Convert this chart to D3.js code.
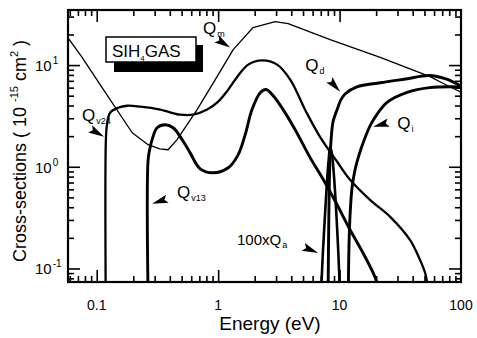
<!DOCTYPE html>
<html>
<head>
<meta charset="utf-8">
<script src="https://cdn.jsdelivr.net/npm/d3@7"></script>
<style>
  html, body { margin: 0; padding: 0; background: #fff; }
  svg { display: block; font-family: "Liberation Sans", Arial, sans-serif; }
</style>
</head>
<body>
<svg id="chart" width="477" height="338"></svg>
<script>
// Electron collision cross-sections of SiH4, in units of 1e-15 cm^2
// Each series: [energy (eV), cross-section]
const qm = [[0.058,18.5],[0.0758,11.9],[0.107,6.4],[0.196,2.16],[0.265,1.65],[0.33,1.5],[0.387,1.47],
  [0.459,1.85],[0.671,3.65],[0.98,7.7],[1.33,14.2],[1.94,23.4],[2.95,26.8],[3.77,25.6],
  [8.36,17.8],[21.6,11.9],[55.6,7.7],[77,6.3],[100,5.4]];

const qv24 = [[0.1185,0.06],[0.119,1.85],[0.1215,2.6],[0.129,3.4],[0.150,3.8],[0.178,3.98],[0.228,3.9],
  [0.333,3.65],[0.486,3.25],[0.622,3.25],[0.812,3.65],[1.0,4.37],[1.21,5.74],[1.46,7.87],[1.77,10.1],
  [2.3,11.1],[3.06,10.1],[3.92,7.2],[5.3,3.48],[6.9,1.97],[9.55,1.12],[12.2,0.745],[17.8,0.473],
  [26.1,0.322],[38.0,0.191],[46,0.121],[50.7,0.090],[54,0.06]];

const qv13 = [[0.2645,0.06],[0.265,1.17],[0.275,1.54],[0.286,1.85],[0.314,2.42],[0.366,2.59],[0.426,2.42],
  [0.505,1.85],[0.588,1.37],[0.711,0.955],[0.909,0.873],[1.21,0.977],[1.46,1.31],[1.67,2.07],[1.9,3.65],
  [2.22,5.35],[2.48,5.75],[2.84,5.0],[3.43,3.65],[4.31,2.31],[5.72,1.23],[7.2,0.78],[9.38,0.44],
  [12.2,0.24],[15.6,0.142],[19.6,0.082],[21.0,0.06]];

const qd = [[8.05,0.06],[8.15,0.3],[8.3,1.0],[8.5,1.8],[8.85,2.8],[9.5,3.6],[10.3,4.6],[11.1,5.2],
  [13.9,6.1],[21.6,6.7],[35,7.3],[55,7.9],[75,7.3],[100,6.2]];

const qi = [[11.8,0.06],[12.0,0.2],[12.3,0.4],[12.7,0.64],[13.4,0.93],[14.3,1.25],[15.3,1.6],[17.2,2.3],
  [19,2.9],[24.6,4.3],[36,5.4],[55,6.0],[100,6.1]];

// attachment cross-section, multiplied by 100
const qa100 = [[7.05,0.06],[7.3,0.15],[7.6,0.35],[7.9,0.75],[8.15,1.2],[8.35,1.55],[8.6,1.4],[9.0,0.8],
  [9.4,0.35],[9.8,0.13],[10.05,0.06]];

const xTickValues = [0.1, 1, 10, 100];
const xTickLabels = ["0.1", "1", "10", "100"];
const yTickValues = [0.1, 1, 10];
const yTickExponents = ["-1", "0", "1"];

const svg = d3.select("#chart");
const plotL = 68, plotR = 461, plotT = 10, plotB = 282;

const x = d3.scaleLog().domain([0.058, 100]).range([plotL, plotR]);
const y = d3.scaleLog().domain([0.0736, 34.8]).range([plotB, plotT]);

svg.append("rect").attr("width", 477).attr("height", 338).attr("fill", "#fff");

svg.append("defs").append("clipPath").attr("id", "plot")
  .append("rect").attr("x", plotL).attr("y", plotT).attr("width", plotR - plotL).attr("height", plotB - plotT);

// minor/major tick value lists inside each domain
function logTicks(domain) {
  const out = [];
  for (let e = -3; e <= 3; e++) {
    for (let m = 1; m <= 9; m++) {
      const v = m * Math.pow(10, e);
      if (v >= domain[0] * 1.001 && v <= domain[1] * 0.999) out.push({v, major: m === 1});
    }
  }
  return out;
}
const xT = logTicks(x.domain());
const yT = logTicks(y.domain());
const xMajor = xT.filter(d => d.major).map(d => d.v);
const xMinor = xT.filter(d => !d.major).map(d => d.v);
const yMajor = yT.filter(d => d.major).map(d => d.v);
const yMinor = yT.filter(d => !d.major).map(d => d.v);

function drawAxis(gen, tx, ty) {
  const g = svg.append("g").attr("transform", `translate(${tx},${ty})`).call(gen);
  g.select(".domain").remove();
  g.selectAll("line").attr("stroke", "#000").attr("stroke-width", 1.6);
  g.selectAll("text").remove();
  return g;
}
// ticks point inward on all four sides
drawAxis(d3.axisBottom(x).tickValues(xMajor).tickSize(-12).tickFormat(""), 0, plotB);
drawAxis(d3.axisBottom(x).tickValues(xMinor).tickSize(-6).tickFormat(""), 0, plotB);
drawAxis(d3.axisTop(x).tickValues(xMajor).tickSize(-12).tickFormat(""), 0, plotT);
drawAxis(d3.axisTop(x).tickValues(xMinor).tickSize(-6).tickFormat(""), 0, plotT);
drawAxis(d3.axisLeft(y).tickValues(yMajor).tickSize(-12).tickFormat(""), plotL, 0);
drawAxis(d3.axisLeft(y).tickValues(yMinor).tickSize(-6).tickFormat(""), plotL, 0);
drawAxis(d3.axisRight(y).tickValues(yMajor).tickSize(-12).tickFormat(""), plotR, 0);
drawAxis(d3.axisRight(y).tickValues(yMinor).tickSize(-6).tickFormat(""), plotR, 0);

// curves
const line = d3.line().x(d => x(d[0])).y(d => y(d[1])).curve(d3.curveCatmullRom.alpha(0.5));
const lineStraight = d3.line().x(d => x(d[0])).y(d => y(d[1]));
const curves = svg.append("g").attr("clip-path", "url(#plot)").attr("fill", "none").attr("stroke", "#000")
  .attr("stroke-linejoin", "round").attr("stroke-linecap", "round");
curves.append("path").attr("d", lineStraight(qm)).attr("stroke-width", 1.3);
curves.append("path").attr("d", line(qv24)).attr("stroke-width", 2.3);
curves.append("path").attr("d", line(qv13)).attr("stroke-width", 2.9);
curves.append("path").attr("d", line(qa100)).attr("stroke-width", 2.6);
curves.append("path").attr("d", line(qd)).attr("stroke-width", 2.9);
curves.append("path").attr("d", line(qi)).attr("stroke-width", 2.9);

// frame
svg.append("rect").attr("x", plotL).attr("y", plotT).attr("width", plotR - plotL).attr("height", plotB - plotT)
  .attr("fill", "none").attr("stroke", "#000").attr("stroke-width", 2.2);

// x tick labels
svg.append("g").selectAll("text").data(xTickValues).join("text")
  .attr("x", d => x(d)).attr("y", 310).attr("text-anchor", "middle")
  .attr("font-size", 14).text((d, i) => xTickLabels[i]);

// y tick labels: 10 with exponent
const yl = svg.append("g").selectAll("text").data(yTickValues).join("text")
  .attr("x", 35).attr("y", d => y(d) + 6).attr("font-size", 15);
yl.append("tspan").text("10");
yl.append("tspan").attr("font-size", 10).attr("dy", -7).attr("dx", 1).text((d, i) => yTickExponents[i]);

// axis titles
svg.append("text").attr("x", 270).attr("y", 330).attr("text-anchor", "middle")
  .attr("font-size", 19).text("Energy (eV)");
const yt = svg.append("text").attr("transform", "translate(26,151) rotate(-90)")
  .attr("text-anchor", "middle").attr("font-size", 18);
yt.append("tspan").text("Cross-sections ( 10 ");
yt.append("tspan").attr("font-size", 11).attr("dy", -8).text("-15");
yt.append("tspan").attr("dy", 8).text(" cm");
yt.append("tspan").attr("font-size", 11).attr("dy", -8).text("2");
yt.append("tspan").attr("dy", 8).text(" )");

// gas label box with drop shadow
svg.append("rect").attr("x", 114).attr("y", 45).attr("width", 89).attr("height", 27).attr("fill", "#000");
svg.append("rect").attr("x", 106).attr("y", 37).attr("width", 90).attr("height", 25)
  .attr("fill", "#fff").attr("stroke", "#000").attr("stroke-width", 1.5);
const gas = svg.append("text").attr("x", 112).attr("y", 57).attr("font-size", 17);
gas.append("tspan").text("SIH");
gas.append("tspan").attr("font-size", 8).attr("dy", 4).text("4");
gas.append("tspan").attr("dy", -4).text("GAS");

// curve labels, placed in data coordinates
const labels = [
  {e: 0.752, q: 20.4, main: "Q", sub: "m"},
  {e: 0.0758, q: 2.84, main: "Q", sub: "v24"},
  {e: 0.459, q: 0.495, main: "Q", sub: "v13"},
  {e: 5.21, q: 8.83, main: "Q", sub: "d"},
  {e: 29.8, q: 2.37, main: "Q", sub: "i"},
  {e: 1.43, q: 0.17, main: "100xQ", sub: "a", small: true}
];
const lt = svg.append("g").selectAll("text").data(labels).join("text")
  .attr("x", d => x(d.e)).attr("y", d => y(d.q)).attr("font-size", d => d.small ? 15 : 17);
lt.append("tspan").text(d => d.main);
lt.append("tspan").attr("font-size", 9).attr("dy", 3).attr("dx", 1).text(d => d.sub);

// pointer arrows: [tail, tip] in data coordinates
const arrows = [
  [[0.963, 18.2], [1.256, 14.9]],
  [[0.0849, 2.42], [0.115, 1.975]],
  [[0.380, 0.484], [0.286, 0.432]],
  [[8.21, 7.2], [10.1, 5.48]],
  [[25.1, 2.71], [18.9, 2.48]],
  [[5.01, 0.163], [6.66, 0.142]]
];
svg.append("g").selectAll("path").data(arrows).join("path")
  .attr("fill", "#000")
  .attr("d", ([a, b]) => {
    const x0 = x(a[0]), y0 = y(a[1]), x1 = x(b[0]), y1 = y(b[1]);
    const dx = x1 - x0, dy = y1 - y0, L = Math.hypot(dx, dy);
    const ux = dx / L, uy = dy / L, nx = -uy, ny = ux, hw = 4.2;
    const bx = x1 - ux * 16, by = y1 - uy * 16;
    return `M${x1},${y1}L${bx + nx * hw},${by + ny * hw}L${bx + ux * 3},${by + uy * 3}L${bx - nx * hw},${by - ny * hw}Z`;
  });
</script>
</body>
</html>
